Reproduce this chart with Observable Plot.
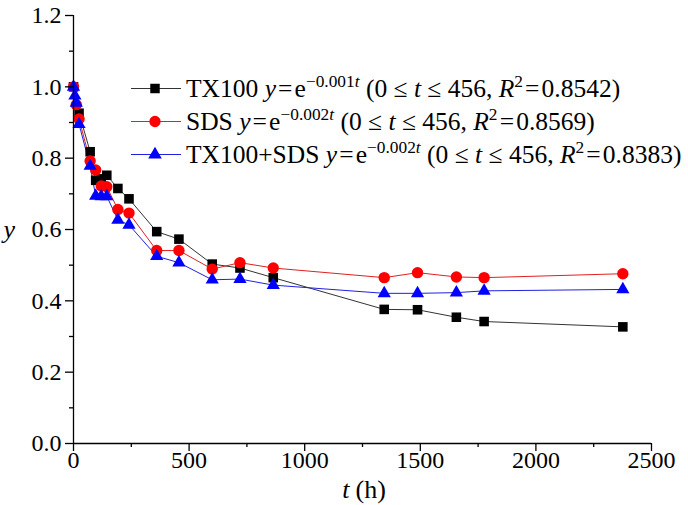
<!DOCTYPE html>
<html>
<head>
<meta charset="utf-8">
<script src="https://cdn.jsdelivr.net/npm/d3@7"></script>
<script src="https://cdn.jsdelivr.net/npm/@observablehq/plot@0.6"></script>
<style>
  body { margin: 0; background: white; }
  #wrap { position: relative; width: 688px; height: 505px; font-family: "Liberation Serif", "Times New Roman", serif; }
  #legend { position: absolute; left: 131px; top: 72px; font-size: 25.5px; color: #000; }
  .row { display: flex; align-items: center; height: 33px; white-space: nowrap; }
  .row svg { margin-right: 5px; }
  sup { font-size: 0.68em; vertical-align: 0.55em; line-height: 0; }
</style>
</head>
<body>
<div id="wrap"></div>
<script>
// ---- data ----
const seriesNames = ["TX100", "SDS", "TX100+SDS"];
const rates = ["0.001", "0.002", "0.002"];
const r2 = ["0.8542", "0.8569", "0.8383"];
const colors = ["#000000", "#ff0000", "#0000ff"];
const lineColors = ["#333333", "#e02020", "#2020e0"];
const symbols = ["square", "circle", "triangle"];

const tTX = [0, 24, 72, 96, 120, 144, 192, 240, 360, 456, 600, 720, 864, 1344, 1488, 1656, 1776, 2376];
const yTX = [1.0, 0.926, 0.818, 0.738, 0.742, 0.752, 0.715, 0.686, 0.594, 0.573, 0.503, 0.492, 0.465, 0.376, 0.375, 0.354, 0.342, 0.327];

const tSDS = [0, 12, 24, 72, 96, 120, 144, 192, 240, 360, 456, 600, 720, 864, 1344, 1488, 1656, 1776, 2376];
const ySDS = [1.0, 0.95, 0.91, 0.792, 0.767, 0.722, 0.72, 0.656, 0.646, 0.541, 0.541, 0.489, 0.507, 0.492, 0.465, 0.479, 0.467, 0.465, 0.476];

const tMix = [0, 6, 12, 24, 72, 96, 120, 144, 192, 240, 360, 456, 600, 720, 864, 1344, 1488, 1656, 1776, 2376];
const yMix = [1.0, 0.975, 0.955, 0.895, 0.778, 0.694, 0.693, 0.693, 0.627, 0.613, 0.525, 0.507, 0.459, 0.461, 0.444, 0.421, 0.421, 0.423, 0.428, 0.432];

const xMajor = [0, 500, 1000, 1500, 2000, 2500];
const xMinor = [250, 750, 1250, 1750, 2250];
const yMajor = [0, 0.2, 0.4, 0.6, 0.8, 1.0, 1.2];
const yMinor = [0.1, 0.3, 0.5, 0.7, 0.9, 1.1];

// ---- build ----
const FONT = "'Liberation Serif', 'Times New Roman', serif";
const toRows = (ts, ys, s) => ts.map((t, i) => ({t, y: ys[i], s}));
const series = [toRows(tTX, yTX, 0), toRows(tSDS, ySDS, 1), toRows(tMix, yMix, 2)];

const marks = [];
series.forEach((rows, i) => {
  marks.push(Plot.line(rows, {x: "t", y: "y", stroke: lineColors[i], strokeWidth: 1}));
});
series.forEach((rows, i) => {
  const r = symbols[i] === "square" ? 5.4 : symbols[i] === "circle" ? 5.7 : 4.9;
  marks.push(Plot.dot(rows, {x: "t", y: "y", symbol: symbols[i], r, fill: colors[i], stroke: "none"}));
});

const chart = Plot.plot({
  width: 688,
  height: 505,
  marginLeft: 73,
  marginRight: 37,
  marginTop: 15,
  marginBottom: 62,
  style: {fontFamily: FONT, fontSize: "24px", color: "#000", background: "white"},
  x: {domain: [0, 2500]},
  y: {domain: [0, 1.2]},
  marks: [
    ...marks,
    Plot.ruleY([0], {stroke: "#000", strokeWidth: 1.3}),
    Plot.ruleX([0], {stroke: "#000", strokeWidth: 1.3}),
    Plot.axisX(xMajor, {tickSize: 8, tickFormat: () => "", label: null, strokeWidth: 1.3}),
    Plot.axisX(xMinor, {tickSize: 4, tickFormat: () => "", label: null, strokeWidth: 1.3}),
    Plot.axisY(yMajor, {tickSize: 8, tickFormat: () => "", label: null, strokeWidth: 1.3}),
    Plot.axisY(yMinor, {tickSize: 4, tickFormat: () => "", label: null, strokeWidth: 1.3}),
    // tick labels
    Plot.text(xMajor, {x: d => d, text: d => String(d), frameAnchor: "bottom", dy: 24, fontSize: 24, fontFamily: FONT, fill: "#000"}),
    Plot.text(yMajor, {y: d => d, text: d => d3.format(".1f")(d), frameAnchor: "left", dx: -12, textAnchor: "end", fontSize: 24, fontFamily: FONT, fill: "#000"}),
    // axis titles
    Plot.text(["y"], {text: d => d, frameAnchor: "left", dx: -70, textAnchor: "start", fontStyle: "italic", fontSize: 26, fontFamily: FONT}),
    Plot.text(["t"], {text: d => d, frameAnchor: "bottom", dy: 54, dx: -13, textAnchor: "end", fontStyle: "italic", fontSize: 26, fontFamily: FONT}),
    Plot.text(["(h)"], {text: d => d, frameAnchor: "bottom", dy: 54, dx: -7, textAnchor: "start", fontSize: 26, fontFamily: FONT})
  ]
});

const wrap = document.getElementById("wrap");
wrap.appendChild(chart);

// legend
const legend = document.createElement("div");
legend.id = "legend";
seriesNames.forEach((name, i) => {
  const row = document.createElement("div");
  row.className = "row";
  const sym = d3.symbol().type(symbols[i] === "square" ? d3.symbolSquare : symbols[i] === "circle" ? d3.symbolCircle : d3.symbolTriangle)
    .size(symbols[i] === "square" ? 90 : symbols[i] === "circle" ? 100 : 80)();
  row.innerHTML =
    `<svg width="50" height="33"><line x1="0" x2="50" y1="16.5" y2="16.5" stroke="${lineColors[i]}" stroke-width="1"/>` +
    `<path d="${sym}" transform="translate(24,16.5)" fill="${colors[i]}"/></svg>` +
    `<span>${name} <i>y</i>\u200a=\u200ae<sup>\u2212${rates[i]}<i>t</i></sup> (0 \u2264 <i>t</i> \u2264 456, <i>R</i><sup>2</sup>\u200a=\u200a${r2[i]})</span>`;
  legend.appendChild(row);
});
wrap.appendChild(legend);
</script>
</body>
</html>
